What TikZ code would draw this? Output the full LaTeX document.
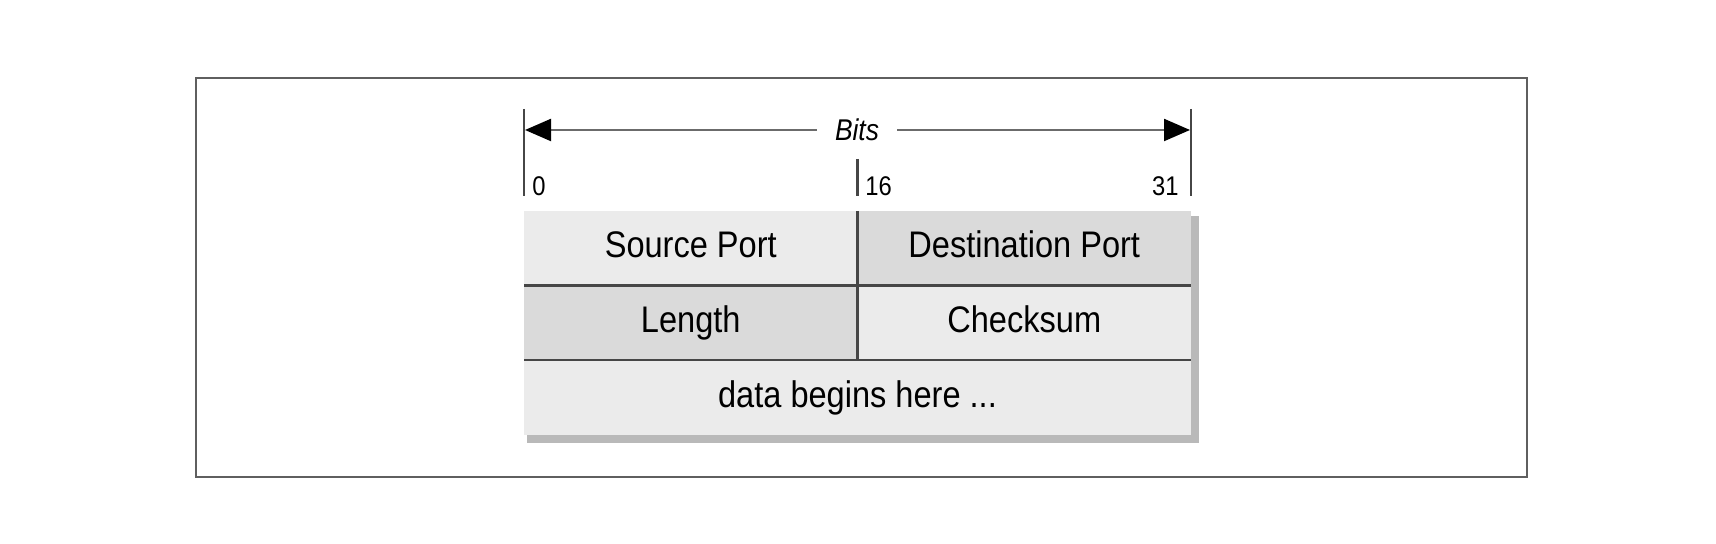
\documentclass[tikz,border=0pt]{standalone}
\usepackage{fontspec}
\setmainfont{Liberation Sans}[FakeStretch=0.88]
\usepackage{tikz}
\usetikzlibrary{arrows.meta}
\usetikzlibrary{positioning}
\definecolor{cellLight}{RGB}{235,235,235}
\definecolor{cellDark}{RGB}{218,218,218}
\definecolor{shadowgray}{RGB}{185,185,185}
\definecolor{rule}{RGB}{70,70,70}
\definecolor{framegray}{RGB}{95,95,95}
\tikzset{cell/.style = {inner sep = 0, outer sep = 0,
                        minimum width = 166.75pt, minimum height = 37.25pt,
                        text height = 13.5pt, text depth = 3.8pt,
                        font = \fontsize{18.5}{22}\selectfont}}
\tikzset{lbl/.style = {inner sep = 0, font = \fontsize{13.5}{16}\selectfont}}
\tikzset{tick/.style = {rule, line width = 1.15pt}}
\tikzset{bitarrow/.style = {draw = rule!80, line width = 1.1pt,
                            -{Triangle[length = 13pt, width = 11pt, color = black]}}}

\begin{document}
\begin{tikzpicture}[x=50pt, y=50pt]
      \useasboundingbox (0, 0) rectangle (17.16, 5.44);
      \draw [framegray, line width=1.3pt] (1.96, 0.67) rectangle (15.27, 4.66);

      % header of the table
      \coordinate (t0) at (5.24, 4.35);
      \coordinate (t16) at (8.575, 3.85);
      \coordinate (t31) at (11.91, 4.35);
      \draw [tick] (t0) -- ++(0, -0.87);
      \draw [tick] (t16) -- ++(0, -0.37);
      \draw [tick] (t31) -- ++(0, -0.87);

      \node [lbl, anchor=base west] (n0) at (5.32, 3.48) {0};
      \node [lbl, anchor=base west] (n16) at (8.65, 3.48) {16};
      \node [lbl, anchor=base east] (n31) at (11.79, 3.48) {31};

      \node [font=\fontsize{15}{18}\selectfont\itshape, inner xsep=9pt] (bits) at (8.57, 4.14) {Bits};
      \coordinate (arrL) at (5.25, 4.14);
      \coordinate (arrR) at (11.90, 4.14);
      \draw [bitarrow] (bits.west) -- (arrL);
      \draw [bitarrow] (bits.east) -- (arrR);

      % the table
      \fill [shadowgray] (5.27, 1.01) rectangle (11.99, 3.28);
      \node [cell, fill=cellLight, anchor=north west] (src) at (5.24, 3.33) {Source Port};
      \node [cell, fill=cellDark, right=0pt of src] (dst) {Destination Port};
      \node [cell, fill=cellDark, below=0pt of src] (len) {Length};
      \node [cell, fill=cellLight, right=0pt of len] (chk) {Checksum};
      \node [cell, fill=cellLight, minimum width=333.5pt, minimum height=37.5pt,
             anchor=north west] (data) at (len.south west) {data begins here ...};

      \draw [tick] (src.south west) -- (dst.south east);
      \draw [tick] (len.south west) -- (chk.south east);
      \draw [tick] (src.north east) -- (len.south east);
    \end{tikzpicture}
\end{document}
